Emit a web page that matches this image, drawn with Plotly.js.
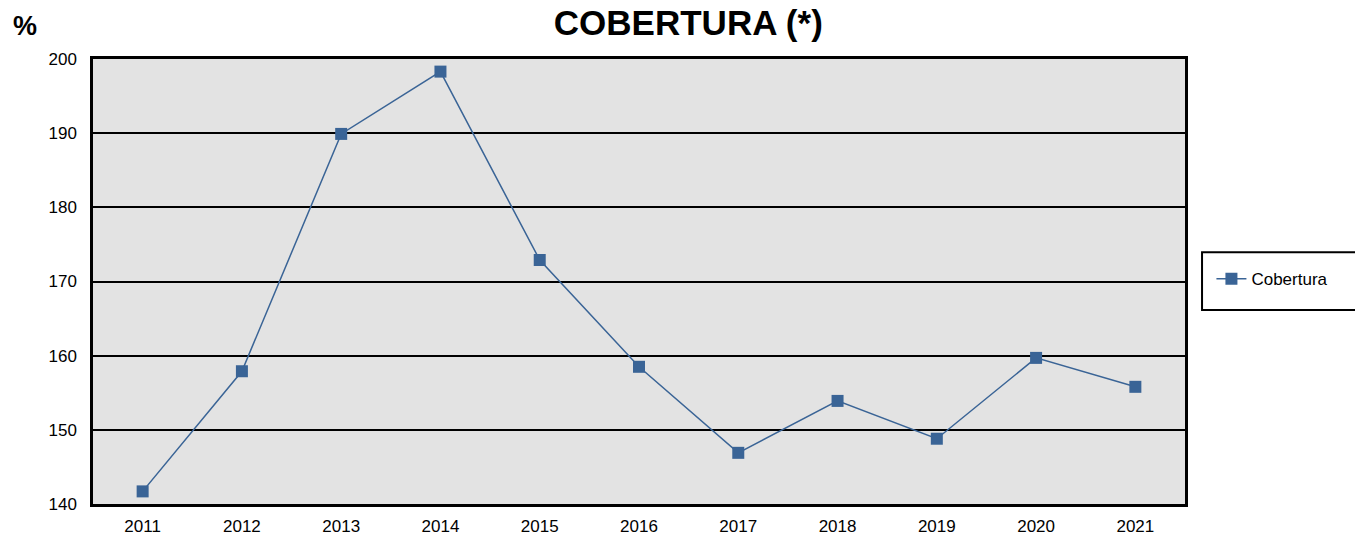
<!DOCTYPE html>
<html>
<head>
<meta charset="utf-8">
<script src="https://cdn.plot.ly/plotly-3.0.1.min.js"></script>
<style>html,body{margin:0;padding:0;background:#fff;}#chart{width:1355px;height:535px;}</style>
</head>
<body>
<div id="chart"></div>
<script>
const years = ["2011","2012","2013","2014","2015","2016","2017","2018","2019","2020","2021"];
const cobertura = [141.7, 157.9, 189.9, 198.3, 172.9, 158.5, 146.9, 153.9, 148.8, 159.7, 155.8];
const yTicks = [140, 150, 160, 170, 180, 190, 200];

const trace = {
  x: years, y: cobertura, type: 'scatter', mode: 'lines+markers', name: 'Cobertura',
  line: {color: '#3a6496', width: 1.5},
  marker: {symbol: 'square', size: 12, color: '#3a6496'}
};
const layout = {
  width: 1355, height: 535,
  margin: {l: 93, r: 170, t: 59, b: 31},
  paper_bgcolor: '#ffffff', plot_bgcolor: '#e3e3e3',
  font: {family: 'Liberation Sans, Arial, sans-serif', size: 17, color: '#000'},
  title: {text: '<b>COBERTURA (*)</b>', font: {size: 35, color: '#000'}, x: 0.508, xanchor: 'center', y: 0.958, yanchor: 'middle'},
  xaxis: {type: 'category', range: [-0.5, 10.5], showgrid: false, zeroline: false,
    showline: true, linecolor: '#000', linewidth: 2.5, mirror: true, ticks: '', tickfont: {size: 17}, ticklabelstandoff: 5},
  yaxis: {range: [140, 200], tickvals: yTicks, showgrid: true, gridcolor: '#000', gridwidth: 2,
    zeroline: false, showline: true, linecolor: '#000', linewidth: 2.5, mirror: true, ticks: '', tickfont: {size: 17}, ticklabelstandoff: 10},
  showlegend: true,
  legend: {x: 1.0242, xanchor: 'left', y: 0.505, yanchor: 'middle', borderwidth: 0,
    bgcolor: 'rgba(0,0,0,0)', font: {size: 17}},
  shapes: [{type: 'rect', xref: 'paper', yref: 'paper', x0: 1.0156, x1: 1.165, y0: 0.436, y1: 0.566,
    line: {color: '#000', width: 2}, fillcolor: '#fff', layer: 'below'}],
  annotations: [{text: '<b>%</b>', xref: 'paper', yref: 'paper', x: -0.075, y: 1.075, xanchor: 'left', yanchor: 'middle',
    showarrow: false, font: {size: 27, color: '#000'}}]
};
Plotly.newPlot('chart', [trace], layout, {displayModeBar: false});
</script>
</body>
</html>
